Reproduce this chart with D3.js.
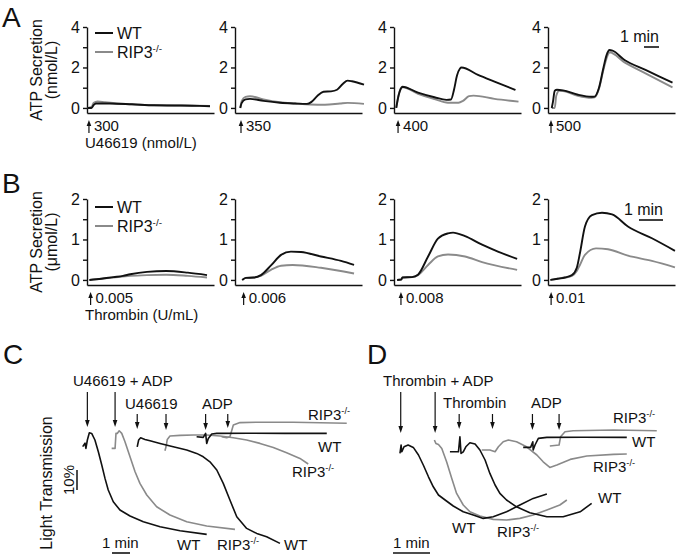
<!DOCTYPE html>
<html><head><meta charset="utf-8">
<script src="https://cdn.jsdelivr.net/npm/d3@7"></script>
<style>
body{margin:0;background:#fff;}
svg{display:block;font-family:"Liberation Sans",Arial,Helvetica,sans-serif;}
</style></head><body>
<svg id="chart" width="677" height="558"></svg>
<script>
// ================= DATA =================
// Panel A: ATP secretion (nmol/L) vs time (min) after U46619
const concA = ["300", "350", "400", "500"];
const arrowA = [0.13, 0.4, 0.27, 0.2];
const A_WT = [
  [[0.05,0],[0.3,0],[0.45,0.15],[0.6,0.22],[1.5,0.22],[3,0.18],[4.5,0.13],[6,0.12],[7.5,0.1],[8.2,0.08]],
  [[0.35,0],[0.45,0.25],[0.7,0.42],[1.0,0.45],[1.9,0.35],[3.0,0.26],[4.0,0.22],[4.8,0.2],[5.1,0.3],[5.5,0.6],[5.9,0.8],[6.4,0.82],[6.8,0.9],[7.2,1.2],[7.5,1.35],[7.8,1.32],[8.6,1.15]],
  [[0.15,0],[0.3,0.6],[0.45,0.95],[0.55,1.05],[1.6,0.76],[2.7,0.53],[3.5,0.4],[3.8,0.42],[4.0,0.9],[4.2,1.6],[4.4,1.95],[4.5,2.0],[5.6,1.63],[6.7,1.3],[8.1,0.89]],
  [[0.25,0],[0.33,0.3],[0.45,0.85],[0.6,0.9],[1.0,0.87],[2.0,0.65],[2.9,0.55],[3.1,0.56],[3.4,1.0],[3.7,2.0],[3.9,2.6],[4.1,2.86],[4.3,2.83],[5.1,2.37],[6.5,1.88],[8.3,1.25]]
];
const A_RIP3 = [
  [[0.05,0],[0.3,0.05],[0.45,0.25],[0.7,0.32],[1.2,0.28],[2,0.22],[3.5,0.16],[5,0.13],[6.5,0.12],[8.2,0.1]],
  [[0.35,0],[0.45,0.35],[0.7,0.55],[1.0,0.58],[1.9,0.42],[3.0,0.28],[4.0,0.22],[5.0,0.17],[6.0,0.16],[7.0,0.22],[7.5,0.25],[8.6,0.2]],
  [[0.15,0],[0.3,0.6],[0.45,0.95],[0.6,1.02],[1.6,0.7],[2.7,0.44],[3.6,0.26],[4.3,0.26],[4.6,0.35],[5.0,0.58],[5.3,0.61],[6.7,0.45],[8.3,0.31]],
  [[0.25,0],[0.45,0],[0.55,0.6],[0.75,0.85],[1.0,0.84],[2.0,0.6],[2.9,0.5],[3.1,0.52],[3.4,0.95],[3.7,1.9],[3.95,2.55],[4.1,2.75],[5.1,2.25],[6.5,1.71],[8.3,1.02]]
];
const ticksA = [0, 1, 2, 3, 4];

// Panel B: ATP secretion (umol/L) vs time (min) after thrombin
const concB = ["0.005", "0.006", "0.008", "0.01"];
const arrowB = [0.15, 0.36, 0.29, 0.13];
const B_WT = [
  [[0.1,0],[0.6,0.03],[1.1,0.07],[1.5,0.1],[1.8,0.14],[2.5,0.2],[3.3,0.22],[4.2,0.18],[5.0,0.12]],
  [[0.3,0],[0.45,0.05],[0.8,0.06],[1.08,0.12],[1.5,0.36],[1.92,0.62],[2.33,0.7],[2.75,0.69],[3.58,0.58],[4.42,0.47],[4.96,0.37]],
  [[0.13,0],[0.3,0.01],[0.35,0.06],[0.75,0.07],[1.0,0.13],[1.42,0.58],[1.83,1.02],[2.25,1.15],[2.46,1.17],[2.96,1.08],[3.67,0.87],[4.33,0.7],[5.13,0.52]],
  [[0.1,0],[0.4,0.03],[0.71,0.06],[1.0,0.12],[1.2,0.3],[1.33,0.66],[1.54,1.32],[1.83,1.6],[2.25,1.66],[2.67,1.62],[3.33,1.32],[4.33,1.03],[5.29,0.72]]
];
const B_RIP3 = [
  [[0.1,0],[0.6,0.03],[1.1,0.06],[1.8,0.1],[2.5,0.12],[3.3,0.13],[4.2,0.1],[5.0,0.06]],
  [[0.3,0],[0.45,0.05],[0.8,0.06],[1.08,0.1],[1.5,0.25],[1.92,0.35],[2.4,0.37],[3.58,0.3],[4.96,0.16]],
  [[0.13,0],[0.3,0.01],[0.35,0.06],[0.75,0.07],[1.0,0.12],[1.42,0.37],[1.83,0.58],[2.25,0.63],[2.96,0.58],[3.67,0.44],[5.13,0.25]],
  [[0.1,0],[0.4,0.03],[0.71,0.06],[1.0,0.1],[1.2,0.22],[1.33,0.37],[1.54,0.62],[2.0,0.78],[2.5,0.76],[3.33,0.6],[4.33,0.47],[5.29,0.31]]
];
const ticksB = [0, 0.5, 1, 1.5, 2];

// Panel C: light transmission change (%) vs time (min), U46619 / ADP
const C_WT_UADP = [[1.26,8.3],[1.39,6.6],[1.44,9.2],[1.52,5],[1.63,1.4],[1.76,1.7],[1.94,5],[2.13,10.9],[2.32,17.5],[2.5,24.2],[2.68,30],[2.96,35.9],[3.33,40],[3.89,43],[4.63,45.9],[5.56,48.4],[6.67,50.4],[8.15,52.2]];
const C_KO_UADP = [[2.87,9.2],[3.06,9.2],[3.11,1.7],[3.18,1.7],[3.29,0.4],[3.43,1.7],[3.61,5.9],[3.89,13.4],[4.17,20.9],[4.44,26.7],[4.82,32.5],[5.37,38.4],[6.11,42.5],[7.04,45.9],[8.15,48],[9.72,49.7]];
const C_WT_U = [[4.29,8.4],[4.37,5],[4.48,3.9],[4.72,4.7],[5.0,5.4],[5.56,6.7],[6.29,8.4],[7.04,10],[7.59,11.7],[7.96,13.4],[8.33,15.9],[8.71,20],[9.07,26.7],[9.44,35],[9.82,43.4],[10.37,49.2],[10.93,51.7],[11.48,53.4],[12.22,56.7]];
const C_KO_U = [[5.83,10.4],[5.89,8.4],[5.96,4.7],[6.11,3],[6.67,2.7],[7.41,2.5],[8.15,2.5],[8.89,3],[9.63,3.9],[10.37,5],[11.11,6.7],[11.85,8.7],[12.59,11.4],[13.33,14.2],[13.79,17]];
const C_WT_ADP = [[7.59,3.4],[7.96,3.7],[8.09,1.7],[8.15,6.7],[8.24,4.2],[8.43,2],[8.71,1.7],[10.5,1.6],[12.5,1.7],[14.82,1.7]];
const C_KO_ADP = [[8.98,3.4],[9.26,3.9],[9.44,3.4],[9.63,-2.5],[10,-3.7],[11.11,-3.9],[12.96,-3.9],[15.93,-3.4]];
const C_arrows = [1.52, 3.06, 4.29, 5.89, 8.09, 9.32];

// Panel D: light transmission change (%) vs time (min), thrombin / ADP
const D_WT_TADP = [[0.54,11.7],[0.57,7.5],[0.59,10.9],[0.65,8.4],[0.76,7.5],[0.9,8.7],[1.04,12.5],[1.17,17.5],[1.31,23.4],[1.44,28.4],[1.58,32.5],[1.76,35],[1.98,38],[2.25,40.9],[2.52,42.5],[2.79,44.2],[3.06,43.4],[3.42,40.9],[3.78,37.5],[4.14,34.2],[4.51,32]];
const D_KO_TADP = [[1.47,5],[1.51,6.7],[1.58,7.2],[1.67,9.2],[1.8,15.9],[1.94,24.2],[2.07,31.7],[2.25,37.5],[2.43,40.9],[2.7,43],[3.06,44.7],[3.42,45],[3.78,44.2],[4.14,42.5],[4.51,40],[4.86,37.5],[5.05,35]];
const D_WT_T = [[1.89,10.9],[2.12,10.9],[2.16,3.4],[2.19,11.7],[2.25,10.9],[2.32,8.4],[2.43,6.4],[2.57,7],[2.7,10],[2.84,15],[2.97,21.7],[3.11,27.5],[3.24,31.7],[3.42,35],[3.69,38.4],[4.05,41.4],[4.51,43.4],[4.95,43.4],[5.41,40.9],[5.72,36.7]];
const D_KO_T = [[2.75,10],[2.97,10],[3.11,10.9],[3.2,8.4],[3.33,5.9],[3.47,5],[3.69,5.9],[3.96,8.4],[4.24,12.5],[4.41,15.9],[4.59,18.7],[4.78,17.5],[5.14,14.7],[5.59,13],[6.31,12.2],[6.67,12]];
const D_WT_ADP = [[3.87,8.7],[4.07,8.7],[4.13,5.9],[4.14,10],[4.19,7.5],[4.28,4.2],[4.51,3.7],[5.5,3.6],[6.67,3.7]];
const D_KO_ADP = [[4.59,8],[4.84,7.5],[4.88,3.4],[5.0,0.9],[5.22,0.4],[6.31,0],[7.48,0.4]];
const D_arrows = [0.56, 1.49, 2.14, 3.04, 4.12, 4.84];

// ================= DRAW =================
const svg = d3.select("#chart");
const BLACK = "#111", GRAY = "#8a8a8a";
const subX = [87, 235, 394, 548], subW = 127;

function supLabel(g, x, y, base, sup, size) {
  const t = g.append("text").attr("x", x).attr("y", y).attr("font-size", size).attr("fill", "#111").text(base);
  if (sup) t.append("tspan").attr("font-size", size * 0.62).attr("dy", -size * 0.38).text(sup);
  return t;
}
function upArrow(g, x, y1, y2) { // arrow pointing up, tip at y1
  g.append("line").attr("x1", x).attr("x2", x).attr("y1", y1 + 3).attr("y2", y2).attr("stroke", "#111").attr("stroke-width", 1.2);
  g.append("path").attr("d", `M${x},${y1} L${x-2.3},${y1+6} L${x+2.3},${y1+6} Z`).attr("fill", "#111");
}
function downArrow(g, x, y1, y2) { // arrow pointing down, tip at y2
  g.append("line").attr("x1", x).attr("x2", x).attr("y1", y1).attr("y2", y2 - 3).attr("stroke", "#111").attr("stroke-width", 1.2);
  g.append("path").attr("d", `M${x},${y2} L${x-2.3},${y2-7} L${x+2.3},${y2-7} Z`).attr("fill", "#111");
}

function secretionPanel(cfg) {
  const g = svg.append("g");
  const y = d3.scaleLinear().domain(cfg.yDomain).range([cfg.yBottom, cfg.yTop]);
  for (let i = 0; i < 4; i++) {
    const x = d3.scaleLinear().domain([0, subW / cfg.pxPerMin]).range([subX[i], subX[i] + subW]);
    const ax = g.append("g").attr("transform", `translate(${subX[i]},0)`)
      .call(d3.axisLeft(y).tickValues(cfg.ticks).tickSize(4).tickPadding(3).tickSizeOuter(0)
        .tickFormat(d => cfg.labelled.includes(d) ? d : ""));
    ax.selectAll("text").attr("font-size", 16).attr("font-family", "Liberation Sans, Arial, sans-serif").attr("fill", "#111");
    ax.selectAll("line,path").attr("stroke", "#111").attr("stroke-width", 1.4);
    const bx = g.append("g").attr("transform", `translate(0,${cfg.yBottom})`)
      .call(d3.axisBottom(x).tickValues([]).tickSizeOuter(0));
    bx.selectAll("path").attr("stroke", "#111").attr("stroke-width", 1.4);
    const line = d3.line().x(d => x(d[0])).y(d => y(d[1])).curve(d3.curveMonotoneX);
    g.append("path").datum(cfg.ko[i]).attr("d", line).attr("fill", "none").attr("stroke", GRAY).attr("stroke-width", 1.9);
    g.append("path").datum(cfg.wt[i]).attr("d", line).attr("fill", "none").attr("stroke", BLACK).attr("stroke-width", 1.9);
    const axp = x(cfg.arrows[i]);
    upArrow(g, axp, cfg.yBottom + 7, cfg.yBottom + 20);
    g.append("text").attr("x", axp + 5).attr("y", cfg.yBottom + 18).attr("font-size", 15).attr("fill", "#111").text(cfg.conc[i]);
    if (i === 3) {
      const x0 = cfg.barX, x1 = x0 + cfg.pxPerMin;
      g.append("text").attr("x", x1).attr("y", cfg.barY - 5).attr("text-anchor", "end").attr("font-size", 16).attr("fill", "#111").text("1 min");
      g.append("line").attr("x1", x0).attr("x2", x1).attr("y1", cfg.barY).attr("y2", cfg.barY).attr("stroke", "#111").attr("stroke-width", 1.6);
    }
  }
  // legend
  const ly = cfg.legendY;
  g.append("line").attr("x1", 95).attr("x2", 113).attr("y1", ly).attr("y2", ly).attr("stroke", BLACK).attr("stroke-width", 2);
  supLabel(g, 117, ly + 6, "WT", null, 16);
  g.append("line").attr("x1", 95).attr("x2", 113).attr("y1", ly + 19).attr("y2", ly + 19).attr("stroke", GRAY).attr("stroke-width", 2);
  supLabel(g, 117, ly + 25, "RIP3", "-/-", 16);
  // y label
  const cy = (cfg.yTop + cfg.yBottom) / 2;
  g.append("text").attr("transform", `translate(42,${cy}) rotate(-90)`).attr("text-anchor", "middle").attr("font-size", 16).attr("fill", "#111").text("ATP Secretion");
  g.append("text").attr("transform", `translate(57,${cy}) rotate(-90)`).attr("text-anchor", "middle").attr("font-size", 16).attr("fill", "#111").text(cfg.unit);
  g.append("text").attr("x", 85).attr("y", cfg.yBottom + 35).attr("font-size", 15).attr("fill", "#111").text(cfg.agonist);
  g.append("text").attr("x", 2).attr("y", cfg.letterY).attr("font-size", 28).attr("fill", "#111").text(cfg.letter);
}

secretionPanel({letter: "A", letterY: 27, yDomain: [-0.25, 4], yTop: 27, yBottom: 113, ticks: ticksA, labelled: [0, 2, 4],
  pxPerMin: 15, wt: A_WT, ko: A_RIP3, arrows: arrowA, conc: concA, unit: "(nmol/L)", agonist: "U46619 (nmol/L)",
  legendY: 33, barX: 644, barY: 47});
secretionPanel({letter: "B", letterY: 193, yDomain: [-0.125, 2], yTop: 199, yBottom: 285, ticks: ticksB, labelled: [0, 1, 2],
  pxPerMin: 24, wt: B_WT, ko: B_RIP3, arrows: arrowB, conc: concB, unit: "(\u03bcmol/L)", agonist: "Thrombin (U/mL)",
  legendY: 207, barX: 639, barY: 220});

// ---- aggregation panels ----
function aggPanel(cfg) {
  const g = svg.append("g");
  const x = d3.scaleLinear().domain(cfg.xDomain).range(cfg.xRange);
  const y = d3.scaleLinear().domain([0, 100]).range([430, 630]);
  const line = d3.line().x(d => x(d[0])).y(d => y(d[1]));
  cfg.traces.forEach(t => {
    g.append("path").datum(t.data).attr("d", line).attr("fill", "none")
      .attr("stroke", t.ko ? GRAY : BLACK).attr("stroke-width", 1.6).attr("stroke-linejoin", "round");
  });
  cfg.arrows.forEach((a, i) => {
    const long = i < 2;
    downArrow(g, x(a), long ? 392 : 414, cfg.arrowTips[i]);
  });
  cfg.texts.forEach(t => supLabel(g, t[0], t[1], t[2], t[3], 15));
  // scale bar 1 min
  const x0 = cfg.barX, x1 = x0 + (x(1) - x(0));
  g.append("line").attr("x1", x0).attr("x2", x1).attr("y1", 553).attr("y2", 553).attr("stroke", "#111").attr("stroke-width", 1.6);
  g.append("text").attr("x", cfg.minX).attr("y", 548).attr("font-size", 15).attr("fill", "#111").text("1 min");
  g.append("text").attr("x", cfg.letterX).attr("y", 364).attr("font-size", 28).attr("fill", "#111").text(cfg.letter);
}

aggPanel({letter: "C", letterX: 3, xDomain: [0, 16], xRange: [60, 348], arrows: C_arrows,
  arrowTips: [427, 427, 429, 430, 430, 428],
  traces: [{data: C_KO_UADP, ko: true}, {data: C_WT_UADP}, {data: C_KO_U, ko: true}, {data: C_WT_U}, {data: C_KO_ADP, ko: true}, {data: C_WT_ADP}],
  texts: [[73, 386, "U46619 + ADP"], [125, 409, "U46619"], [202, 409, "ADP"],
    [308, 420, "RIP3", "-/-"], [318, 452, "WT"], [292, 477, "RIP3", "-/-"],
    [177, 550, "WT"], [217, 550, "RIP3", "-/-"], [284, 550, "WT"]],
  barX: 112, minX: 102});
aggPanel({letter: "D", letterX: 367, xDomain: [0, 8], xRange: [380, 676], arrows: D_arrows,
  arrowTips: [433, 433, 429, 429, 430, 430],
  traces: [{data: D_KO_TADP, ko: true}, {data: D_WT_TADP}, {data: D_KO_T, ko: true}, {data: D_WT_T}, {data: D_KO_ADP, ko: true}, {data: D_WT_ADP}],
  texts: [[383, 386, "Thrombin + ADP"], [443, 408, "Thrombin"], [531, 408, "ADP"],
    [613, 423, "RIP3", "-/-"], [632, 447, "WT"], [593, 472, "RIP3", "-/-"], [598, 503, "WT"],
    [452, 533, "WT"], [497, 537, "RIP3", "-/-"]],
  barX: 393, minX: 393});

// y label and 10% bar for C
svg.append("text").attr("transform", "translate(52,483) rotate(-90)").attr("text-anchor", "middle").attr("font-size", 16).attr("fill", "#111").text("Light Transmission");
svg.append("text").attr("transform", "translate(74,480) rotate(-90)").attr("text-anchor", "middle").attr("font-size", 15).attr("fill", "#111").text("10%");
svg.append("line").attr("x1", 77).attr("x2", 77).attr("y1", 470).attr("y2", 490).attr("stroke", "#111").attr("stroke-width", 1.5);
</script>
</body></html>
